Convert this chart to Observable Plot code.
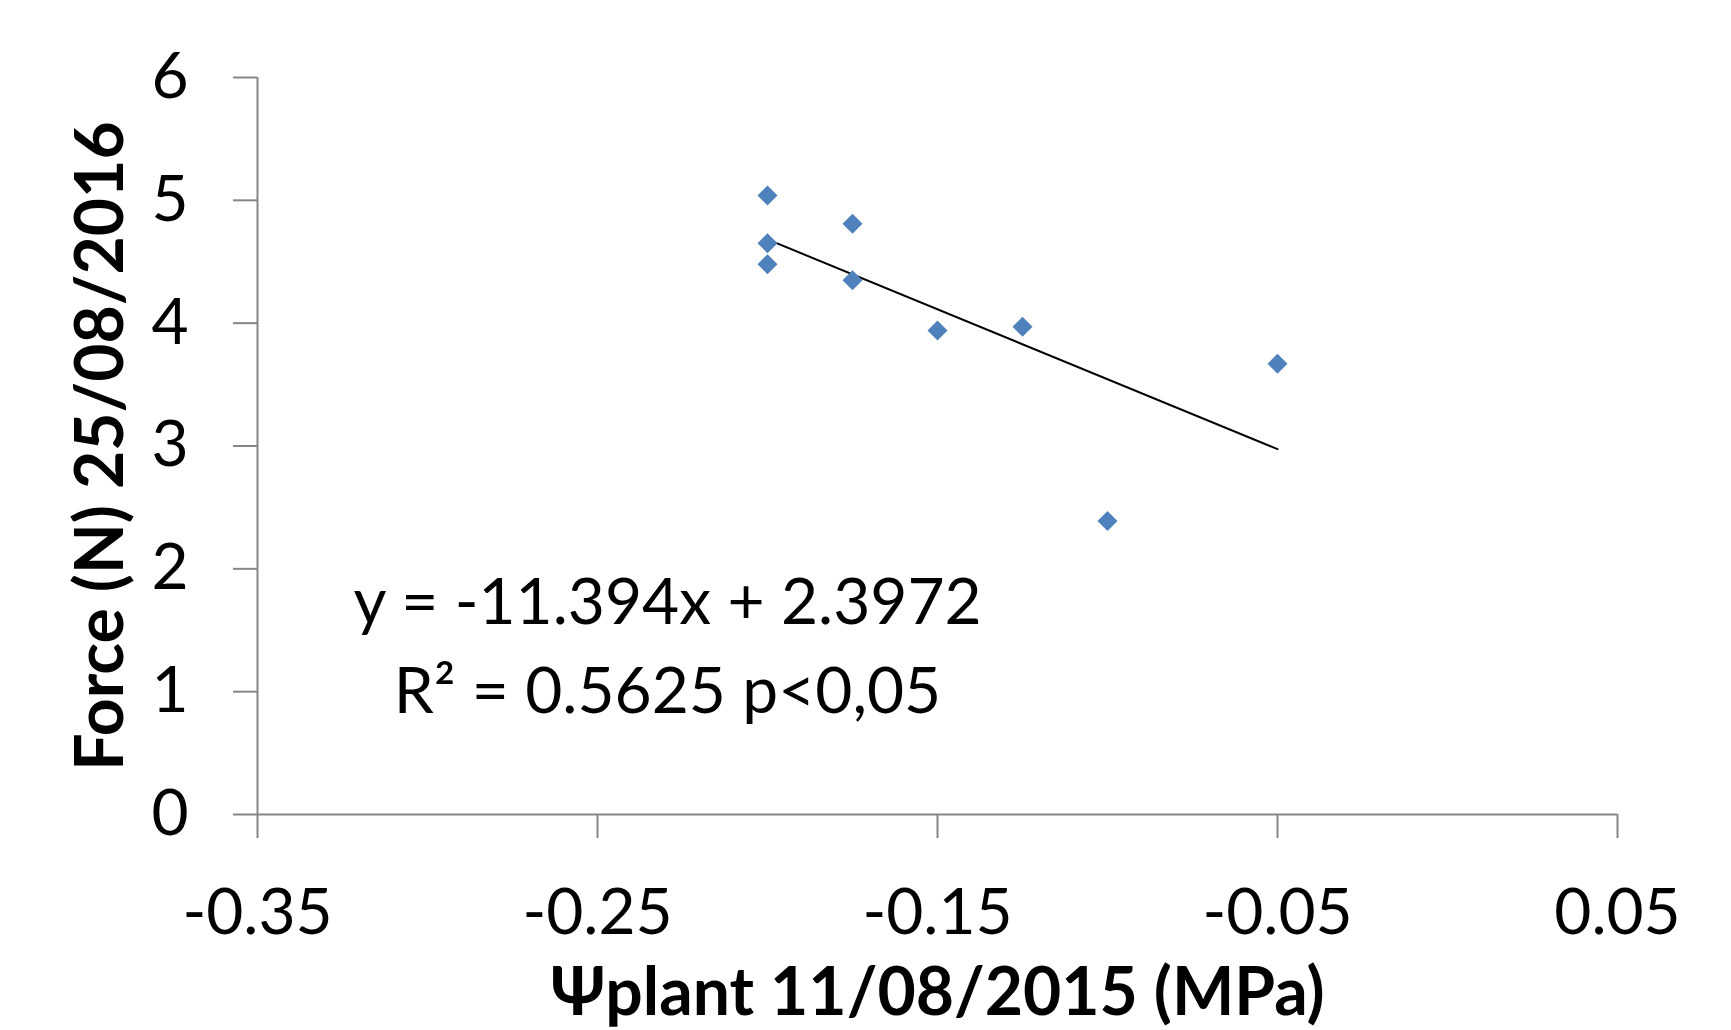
<!DOCTYPE html>
<html>
<head>
<meta charset="utf-8">
<script src="https://cdn.jsdelivr.net/npm/d3@7"></script>
<script src="https://cdn.jsdelivr.net/npm/@observablehq/plot@0.6"></script>
<style>
  html, body { margin: 0; padding: 0; background: #ffffff; }
  svg { display: block; }
</style>
</head>
<body>
<div id="chart"></div>
<script>
// ---- data ----
const psiPlant = [-0.20, -0.20, -0.20, -0.175, -0.175, -0.15, -0.125, -0.10, -0.05];
const force    = [5.04, 4.65, 4.48, 4.81, 4.35, 3.94, 3.97, 2.39, 3.67];
const xTicks = [-0.35, -0.25, -0.15, -0.05, 0.05];
const yTicks = [0, 1, 2, 3, 4, 5, 6];
const xTitle = "Ψplant 11/08/2015 (MPa)";
const yTitle = "Force (N) 25/08/2016";
const eqLine1 = "y = -11.394x + 2.3972";
const eqLine2 = "R² = 0.5625 p<0,05";

const points = psiPlant.map((x, i) => ({x, y: force[i]}));

const axisColor = "#868686";
const markerColor = "#4F81BD";
const font = "Lato, 'Open Sans', sans-serif";

const chart = Plot.plot({
  width: 1731,
  height: 1030,
  marginLeft: 257,
  marginRight: 114,
  marginTop: 77,
  marginBottom: 216,
  style: {fontFamily: font, fontSize: "64px", color: "black", background: "white"},
  x: {domain: [-0.35, 0.05]},
  y: {domain: [0, 6]},
  marks: [
    Plot.ruleX([-0.35], {stroke: axisColor, strokeWidth: 2}),
    Plot.ruleY([0], {stroke: axisColor, strokeWidth: 2}),
    Plot.axisX(xTicks, {
      tickSize: 24, tickPadding: 50, stroke: axisColor, strokeWidth: 2, fill: "black",
      tickFormat: d => d.toFixed(2), fontSize: 64, label: null
    }),
    Plot.axisY(yTicks, {
      tickSize: 24, tickPadding: 45, stroke: axisColor, strokeWidth: 2, fill: "black",
      tickFormat: d => String(d), fontSize: 64, label: null
    }),
    Plot.linearRegressionY(points, {x: "x", y: "y", stroke: "black", strokeWidth: 2, ci: 0}),
    Plot.dot(points, {x: "x", y: "y", symbol: "diamond2", r: 9, fill: markerColor, stroke: "none"}),
    Plot.text([eqLine1], {text: d => d, x: -0.2294, y: 1.72, fontSize: 64, fill: "black", textAnchor: "middle", lineAnchor: "middle"}),
    Plot.text([eqLine2], {text: d => d, x: -0.2294, y: 0.99, fontSize: 64, fill: "black", textAnchor: "middle", lineAnchor: "middle"}),
    Plot.text([xTitle], {text: d => d, frameAnchor: "bottom", dy: 179, fontSize: 66, fontWeight: "bold", fill: "black", textAnchor: "middle", lineAnchor: "middle"}),
    Plot.text([yTitle], {text: d => d, frameAnchor: "left", dx: -156, rotate: -90, fontSize: 66, fontWeight: "bold", fill: "black", textAnchor: "middle", lineAnchor: "middle"})
  ]
});

document.getElementById("chart").appendChild(chart);
</script>
</body>
</html>
